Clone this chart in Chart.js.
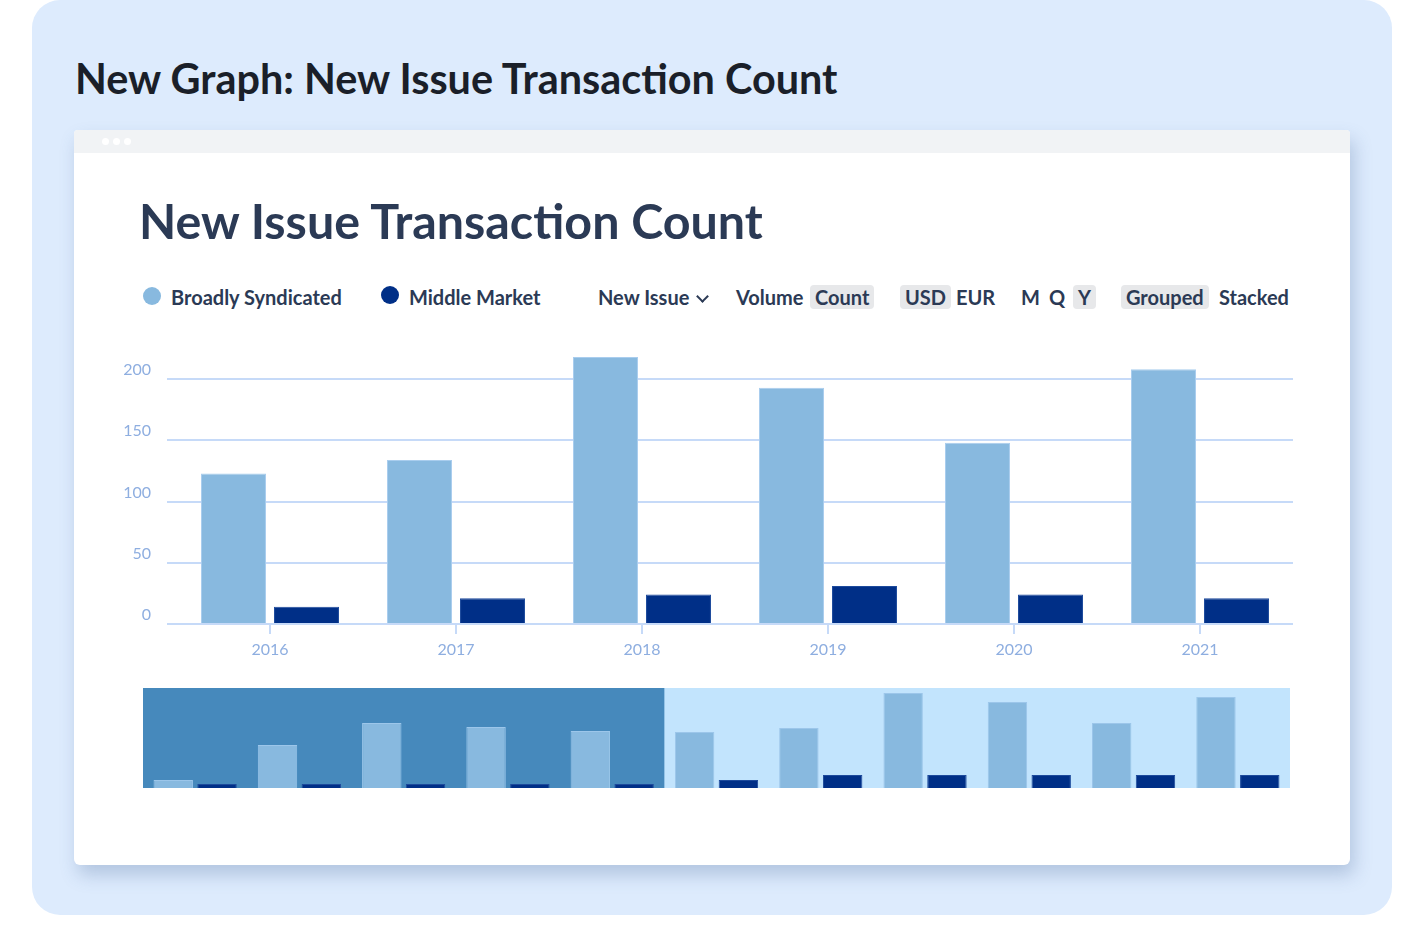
<!DOCTYPE html>
<html>
<head>
<meta charset="utf-8">
<script src="https://cdn.jsdelivr.net/npm/chart.js@4.4.1/dist/chart.umd.min.js"></script>
<style>
  html, body { margin:0; padding:0; background:#ffffff; width:1418px; height:948px; overflow:hidden; font-family: Lato, "Open Sans", sans-serif; }
  .panel { position:absolute; left:32px; top:0px; width:1360px; height:915px; background:#ddebfd; border-radius:28px; }
  .heading { position:absolute; left:75px; top:53px; font-size:41.4px; font-weight:700; color:#1a1f29; white-space:nowrap; }
  .card { position:absolute; left:74px; top:130px; width:1276px; height:735px; background:#ffffff; border-radius:4px 4px 6px 6px; box-shadow: 4px 10px 18px rgba(70,100,150,0.28); overflow:hidden; }
  .cardbar { position:absolute; left:0; top:0; width:100%; height:23px; background:#f1f3f5; }
  .dot { position:absolute; top:8px; width:7px; height:7px; border-radius:50%; background:#ffffff; }
  .ctitle { position:absolute; left:139px; top:191px; font-size:48.4px; font-weight:700; color:#2b3a55; white-space:nowrap; }
  .leg { position:absolute; top:284px; height:26px; line-height:26px; font-size:20px; font-weight:700; color:#2b3a55; white-space:nowrap; }
  .pill { background:#e7e8ea; border-radius:4px; padding:0 5px; }
  .circ { position:absolute; width:18px; height:18px; border-radius:50%; }
  .chev { position:absolute; left:698px; top:292px; width:7px; height:7px; border-right:2.5px solid #2b3a55; border-bottom:2.5px solid #2b3a55; transform:rotate(45deg); }
  #mainWrap { position:absolute; left:100px; top:329px; width:1193px; height:335px; }
  #navWrap { position:absolute; left:143px; top:688px; width:1147px; height:100px; }
</style>
</head>
<body>
<div class="panel"></div>
<div class="heading">New Graph: New Issue Transaction Count</div>
<div class="card">
  <div class="cardbar"></div>
  <div class="dot" style="left:28px"></div>
  <div class="dot" style="left:39px"></div>
  <div class="dot" style="left:50px"></div>
</div>
<div class="ctitle">New Issue Transaction Count</div>

<div class="circ" style="left:143px; top:287px; background:#88b9df"></div>
<div class="leg" style="left:171px">Broadly Syndicated</div>
<div class="circ" style="left:381px; top:286px; background:#002f87"></div>
<div class="leg" style="left:409px">Middle Market</div>
<div class="leg" style="left:598px">New Issue</div>
<div class="chev"></div>
<div class="leg" style="left:736px">Volume</div>
<div class="leg" style="left:810px"><span class="pill">Count</span></div>
<div class="leg" style="left:900px"><span class="pill">USD</span></div>
<div class="leg" style="left:956px">EUR</div>
<div class="leg" style="left:1021px">M</div>
<div class="leg" style="left:1049px">Q</div>
<div class="leg" style="left:1073px"><span class="pill">Y</span></div>
<div class="leg" style="left:1121px"><span class="pill">Grouped</span></div>
<div class="leg" style="left:1219px">Stacked</div>

<div id="mainWrap"><canvas id="main"></canvas></div>
<div id="navWrap"><canvas id="nav"></canvas></div>

<script>
const categories = ['2016', '2017', '2018', '2019', '2020', '2021'];
const broadlySyndicated = [123, 134, 218, 193, 148, 208];
const middleMarket = [14, 21, 24, 31, 24, 21];
const yTickValues = [0, 50, 100, 150, 200];

const navCategories = ['2011', '2012', '2013', '2014', '2015', '2016', '2017', '2018', '2019', '2020', '2021'];
const navBroadly = [8, 43, 65, 61, 57, 56, 60, 95, 86, 65, 91];
const navMiddle = [4, 4, 4, 4, 4, 8, 13, 13, 13, 13, 13];
const navSelectedCount = 5;

const BS_COLOR = '#88b9df';
const BS_BORDER = '#a9cdee';
const MM_COLOR = '#002f87';
const MM_BORDER = '#1d4a9c';
const GRID = '#c6daf8';
const TICK_TXT = '#8eaee0';

Chart.defaults.font.family = 'Lato, "Open Sans", sans-serif';

new Chart(document.getElementById('main'), {
  type: 'bar',
  data: {
    labels: categories,
    datasets: [
      { label: 'Broadly Syndicated', data: broadlySyndicated, backgroundColor: BS_COLOR, borderColor: BS_BORDER, borderWidth: 1, borderSkipped: 'bottom', categoryPercentage: 0.785, barPercentage: 0.89 },
      { label: 'Middle Market', data: middleMarket, backgroundColor: MM_COLOR, borderColor: MM_BORDER, borderWidth: 1, borderSkipped: 'bottom', categoryPercentage: 0.785, barPercentage: 0.89 }
    ]
  },
  options: {
    responsive: true,
    maintainAspectRatio: false,
    animation: false,
    layout: { padding: { top: 2, right: 0, left: 0, bottom: 0 } },
    plugins: { legend: { display: false }, tooltip: { enabled: false } },
    scales: {
      x: {
        grid: { display: true, drawOnChartArea: false, drawTicks: true, tickLength: 10, offset: false, color: GRID, lineWidth: 2 },
        border: { display: true, color: GRID, width: 2 },
        ticks: { color: TICK_TXT, font: { size: 16 }, padding: 6 },
        afterFit: (s) => { s.height = 40; }
      },
      y: {
        min: 0, max: 220,
        afterBuildTicks: (s) => { s.ticks = yTickValues.map(v => ({ value: v })); },
        grid: { color: GRID, lineWidth: 2, drawTicks: true, tickLength: 10, tickColor: GRID },
        border: { display: false },
        ticks: { color: TICK_TXT, font: { size: 16 }, padding: 16, labelOffset: -9 },
        afterFit: (s) => { s.width = 77; }
      }
    }
  }
});

const navBg = {
  id: 'navBg',
  beforeDatasetsDraw(chart) {
    const { ctx, chartArea, scales } = chart;
    const x = scales.x;
    const split = (x.getPixelForValue(navSelectedCount - 1) + x.getPixelForValue(navSelectedCount)) / 2;
    ctx.save();
    ctx.fillStyle = '#c2e4fd';
    ctx.fillRect(chartArea.left, chartArea.top, chartArea.right - chartArea.left, chartArea.bottom - chartArea.top);
    ctx.fillStyle = '#4689bc';
    ctx.fillRect(chartArea.left, chartArea.top, split - chartArea.left, chartArea.bottom - chartArea.top);
    ctx.restore();
  }
};

new Chart(document.getElementById('nav'), {
  type: 'bar',
  data: {
    labels: navCategories,
    datasets: [
      { data: navBroadly, backgroundColor: BS_COLOR, borderColor: '#9cc6ea', borderWidth: 1, borderSkipped: 'bottom', categoryPercentage: 0.84, barPercentage: 0.9 },
      { data: navMiddle, backgroundColor: MM_COLOR, borderColor: MM_BORDER, borderWidth: 1, borderSkipped: 'bottom', categoryPercentage: 0.84, barPercentage: 0.9 }
    ]
  },
  options: {
    responsive: true,
    maintainAspectRatio: false,
    animation: false,
    layout: { padding: 0 },
    plugins: { legend: { display: false }, tooltip: { enabled: false } },
    scales: {
      x: { display: false },
      y: { display: false, min: 0, max: 100 }
    }
  },
  plugins: [navBg]
});
</script>
</body>
</html>
